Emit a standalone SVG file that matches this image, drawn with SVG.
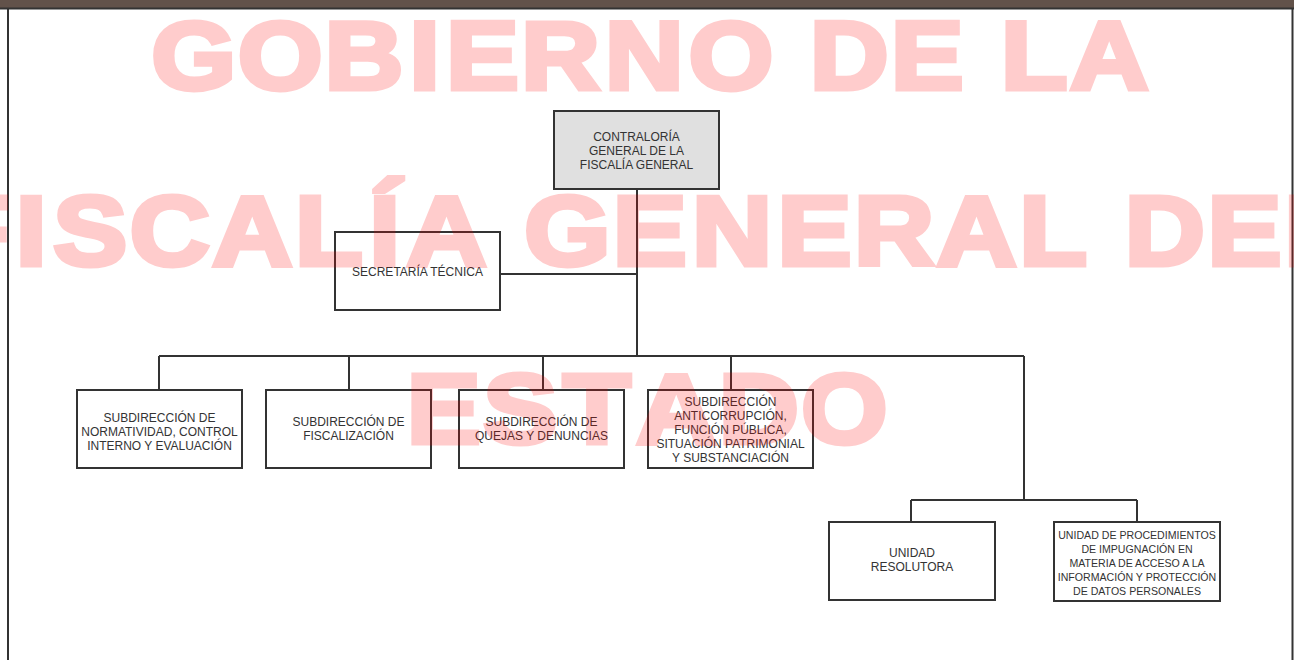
<svg xmlns="http://www.w3.org/2000/svg" width="1294" height="660" viewBox="0 0 1294 660">
<style>
.box{fill:#ffffff;stroke:#333333;stroke-width:2}
.gray{fill:#e0e0e0}
.lbl{font-family:"Liberation Sans",Arial,sans-serif;font-size:12px;fill:#333333;text-anchor:middle}
.sm{font-size:10.6px}
.conn{fill:none;stroke:#333333;stroke-width:2}
.wm{font-family:"Liberation Sans",Arial,sans-serif;font-weight:bold;font-size:99px;fill:#ff0000;stroke:#ff0000;stroke-width:5;text-anchor:middle}
</style>
<rect x="0" y="0" width="1294" height="660" fill="#ffffff"/>
<rect x="0" y="0" width="1294" height="8" fill="#62524a"/>
<g id="frame" fill="none" stroke="#333333" stroke-width="2">
<line x1="0" y1="8.5" x2="1294" y2="8.5"/>
<line x1="8" y1="8" x2="8" y2="660"/>
<line x1="1292.5" y1="8" x2="1292.5" y2="660"/>
</g>
<g id="connectors" class="conn">
<path d="M637 189 V356"/>
<path d="M500 274 H637"/>
<path d="M159 356 H1024"/>
<path d="M159 356 V390 M349 356 V390 M543 356 V390 M731 356 V390"/>
<path d="M1024 356 V500"/>
<path d="M911 500 H1137"/>
<path d="M911 500 V522 M1137 500 V522"/>
</g>
<g id="contraloria">
<rect class="box gray" x="554" y="111" width="165" height="78"/>
<text class="lbl" x="636.5" y="141">CONTRALORÍA</text>
<text class="lbl" x="636.5" y="155">GENERAL DE LA</text>
<text class="lbl" x="636.5" y="169">FISCALÍA GENERAL</text>
</g>
<g id="secretaria">
<rect class="box" x="335" y="232" width="165" height="78"/>
<text class="lbl" x="417.5" y="276">SECRETARÍA TÉCNICA</text>
</g>
<g id="normatividad">
<rect class="box" x="77" y="390" width="165" height="78"/>
<text class="lbl" x="159.5" y="422">SUBDIRECCIÓN DE</text>
<text class="lbl" x="159.5" y="436">NORMATIVIDAD, CONTROL</text>
<text class="lbl" x="159.5" y="450">INTERNO Y EVALUACIÓN</text>
</g>
<g id="fiscalizacion">
<rect class="box" x="266" y="390" width="165" height="78"/>
<text class="lbl" x="348.5" y="426">SUBDIRECCIÓN DE</text>
<text class="lbl" x="348.5" y="440">FISCALIZACIÓN</text>
</g>
<g id="quejas">
<rect class="box" x="459" y="390" width="165" height="78"/>
<text class="lbl" x="541.5" y="426">SUBDIRECCIÓN DE</text>
<text class="lbl" x="541.5" y="440">QUEJAS Y DENUNCIAS</text>
</g>
<g id="anticorrupcion">
<rect class="box" x="648" y="390" width="165" height="78"/>
<text class="lbl" x="730.5" y="406">SUBDIRECCIÓN</text>
<text class="lbl" x="730.5" y="420">ANTICORRUPCIÓN,</text>
<text class="lbl" x="730.5" y="434">FUNCIÓN PÚBLICA,</text>
<text class="lbl" x="730.5" y="448">SITUACIÓN PATRIMONIAL</text>
<text class="lbl" x="730.5" y="462">Y SUBSTANCIACIÓN</text>
</g>
<g id="resolutora">
<rect class="box" x="829" y="522" width="166" height="78"/>
<text class="lbl" x="912" y="557">UNIDAD</text>
<text class="lbl" x="912" y="571">RESOLUTORA</text>
</g>
<g id="impugnacion">
<rect class="box" x="1054" y="522" width="166" height="79"/>
<text class="lbl sm" x="1137" y="539">UNIDAD DE PROCEDIMIENTOS</text>
<text class="lbl sm" x="1137" y="553">DE IMPUGNACIÓN EN</text>
<text class="lbl sm" x="1137" y="567">MATERIA DE ACCESO A LA</text>
<text class="lbl sm" x="1137" y="581">INFORMACIÓN Y PROTECCIÓN</text>
<text class="lbl sm" x="1137" y="595">DE DATOS PERSONALES</text>
</g>
<g id="watermark" opacity="0.2">
<text class="wm" style="font-size:97px" transform="scale(1.12,1)" y="89" x="172.9 250.2 325.0 379.2 430.8 500.4 575.2 652.6 706.7 758.3 827.9 876.9 923.3 990.4">GOBIERNO DE LA</text>
<text class="wm" transform="scale(1.12,1)" y="265" x="-22.0 27.9 80.5 151.5 225.2 293.6 343.5 398.8 451.3 506.5 580.1 653.7 727.2 798.2 871.9 940.3 987.6 1040.1 1111.1 1176.9">FISCALÍA GENERAL DEL</text>
<text class="wm" transform="scale(1.12,1)" y="443" x="396.3 464.6 532.9 603.9 677.6 753.8">ESTADO</text>
</g>
</svg>
